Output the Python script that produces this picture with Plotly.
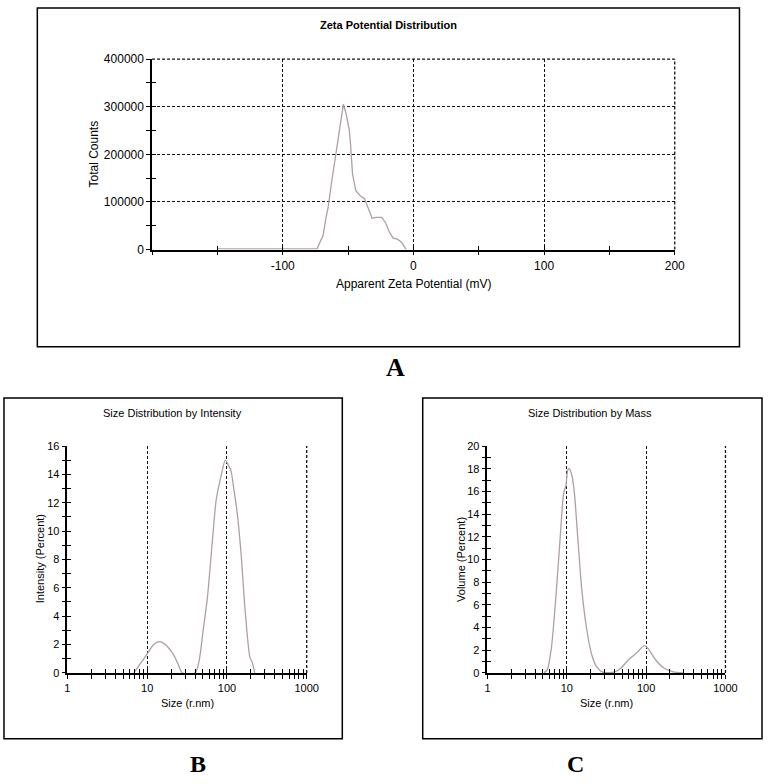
import plotly.graph_objects as go

FW, FH = 775, 784

# ---------------- data ----------------
zeta_mv = [-150, -73.7, -70.7, -69.2, -66.7, -65.4, -62.4, -58.6, -55.6, -53.6, -51.6,
           -49.1, -48.1, -46.6, -44.1, -41.1, -37.4, -34.8, -31.6, -28.6, -24.1, -21.1,
           -18.6, -15.5, -12.3, -9.0, -5.5]
zeta_counts = [1500, 1500, 20700, 29000, 69000, 86300, 145000, 214000, 276000, 305000, 286500,
               252000, 221000, 159000, 124000, 114000, 107000, 90000, 65600, 67700, 67700, 55300,
               38000, 24200, 22000, 15300, 0]

size_int = [6.8, 8.2, 10, 12, 14.4, 17.5, 21.1, 24.3, 27.5, 40, 44.9, 50.2, 56.8, 65.4, 73.3,
            83, 95.5, 105, 112, 121, 133, 150, 168, 194, 207, 223]
int_pct = [0, 0.65, 1.34, 1.99, 2.2, 1.92, 1.34, 0.65, 0, 0, 0.88, 2.96, 5.27, 9.2, 12.2,
           13.7, 15.0, 14.6, 14.3, 13.1, 11.5, 8.5, 4.6, 1.1, 0.76, 0]

size_mass = [5.16, 5.68, 6.42, 7.33, 8.29, 9.12, 9.75, 10.3, 10.7, 11.6, 12.5, 13.7, 15.4,
             17.7, 20.4, 23.6, 28.5, 39.7, 48, 60.8, 77, 95, 107, 130, 165, 219, 291]
mass_pct = [0, 0.29, 2.3, 6.9, 12.1, 15.8, 16.5, 17.9, 18.0, 17.4, 15.8, 12.1, 7.5,
            4.0, 1.73, 0.58, 0.06, 0.06, 0.4, 1.2, 1.8, 2.4, 2.1, 1.2, 0.45, 0.1, 0]

zeta_ticks = [-200, -100, 0, 100, 200]
zeta_ticktext = ["", "-100", "0", "100", "200"]
zeta_minor = [-150, -50, 50, 150]
count_ticks = [0, 100000, 200000, 300000, 400000]
count_ticktext = ["0", "100000", "200000", "300000", "400000"]
count_minor = [50000, 150000, 250000, 350000]

size_ticks = [1, 10, 100, 1000]
size_ticktext = ["1", "10", "100", "1000"]
size_minor = [m * 10 ** k for k in range(3) for m in range(2, 10)]
int_ticks = list(range(0, 17, 2))
int_minor = list(range(1, 16, 2))
vol_ticks = list(range(0, 21, 2))
vol_minor = list(range(1, 20, 2))

# ---------------- style ----------------
LINE_COL = "#ae9fa3"
FONT = "Liberation Sans, Arial, sans-serif"
SERIF = "Liberation Serif, Times New Roman, serif"
GRID_COL = "#111"
GRID_DASH = "3px,2px"
GRID_W = 1.3


def px(p):
    return p / FW


def py(p):
    return 1 - p / FH


fig = go.Figure()

fig.add_trace(go.Scatter(x=zeta_mv, y=zeta_counts, mode="lines",
                         line=dict(color=LINE_COL, width=1.3), xaxis="x", yaxis="y",
                         showlegend=False, hoverinfo="skip"))
fig.add_trace(go.Scatter(x=size_int, y=int_pct, mode="lines",
                         line=dict(color=LINE_COL, width=1.3, shape="spline", smoothing=0.7),
                         xaxis="x2", yaxis="y2", showlegend=False, hoverinfo="skip"))
fig.add_trace(go.Scatter(x=size_mass, y=mass_pct, mode="lines",
                         line=dict(color=LINE_COL, width=1.3, shape="spline", smoothing=0.7),
                         xaxis="x3", yaxis="y3", showlegend=False, hoverinfo="skip"))

# empty traces for overlay (inside-tick) axes
for xa, ya in [("x4", "y"), ("x", "y4"), ("x5", "y2"), ("x2", "y5"), ("x6", "y3"), ("x3", "y6")]:
    fig.add_trace(go.Scatter(x=[], y=[], xaxis=xa, yaxis=ya, showlegend=False, hoverinfo="skip"))

GRID = dict(showgrid=True, gridcolor=GRID_COL, griddash=GRID_DASH, gridwidth=GRID_W)
AX = dict(showline=True, linecolor="black", linewidth=1.5, ticks="outside", ticklen=4,
          tickcolor="black", tickwidth=1.2, zeroline=False, fixedrange=True)
OVL = dict(showline=False, showgrid=False, zeroline=False, ticks="inside", ticklen=4,
           tickcolor="black", tickwidth=1.2, showticklabels=False, tickmode="array")

dom_A_x = [px(152), px(685)]
dom_A_y = [py(247), py(53)]
dom_B_x = [px(65.7), px(309.7)]
dom_C_x = [px(494), px(736.7)]
dom_BC_y = [py(678), py(447)]

fig.update_layout(
    width=FW, height=FH, autosize=False,
    margin=dict(l=0, r=0, t=0, b=0),
    paper_bgcolor="white", plot_bgcolor="white",
    font=dict(family=FONT, color="black"),
    xaxis=dict(domain=dom_A_x, anchor="y", range=[-200, 200], tickmode="array",
               tickvals=zeta_ticks, ticktext=zeta_ticktext, tickfont=dict(size=12),
               minor=dict(tickmode="array", tickvals=zeta_minor, ticks="outside", ticklen=4,
                          tickcolor="black", showgrid=False),
               **GRID, **AX),
    yaxis=dict(domain=dom_A_y, anchor="x", range=[0, 400000], tickmode="array",
               tickvals=count_ticks, ticktext=count_ticktext, tickfont=dict(size=12),
               minor=dict(tickmode="array", tickvals=count_minor, ticks="outside", ticklen=4,
                          tickcolor="black", showgrid=False),
               **GRID, **AX),
    xaxis4=dict(overlaying="x", anchor="y", range=[-200, 200],
                tickvals=zeta_ticks + zeta_minor, **OVL),
    yaxis4=dict(overlaying="y", anchor="x", range=[0, 400000],
                tickvals=count_ticks + count_minor, **OVL),

    xaxis2=dict(domain=dom_B_x, anchor="y2", type="log", range=[0, 3], tickmode="array",
                tickvals=size_ticks, ticktext=size_ticktext, tickfont=dict(size=11),
                minor=dict(tickmode="array", tickvals=size_minor, ticks="outside", ticklen=4,
                           tickcolor="black", showgrid=False),
                **GRID, **AX),
    yaxis2=dict(domain=dom_BC_y, anchor="x2", range=[0, 16], tickmode="array",
                tickvals=int_ticks, tickfont=dict(size=11), showgrid=False,
                minor=dict(tickmode="array", tickvals=int_minor, ticks="outside", ticklen=4,
                           tickcolor="black", showgrid=False),
                **AX),
    xaxis5=dict(overlaying="x2", anchor="y2", type="log", range=[0, 3],
                tickvals=size_ticks + size_minor, **OVL),
    yaxis5=dict(overlaying="y2", anchor="x2", range=[0, 16],
                tickvals=int_ticks + int_minor, **OVL),

    xaxis3=dict(domain=dom_C_x, anchor="y3", type="log", range=[0, 3], tickmode="array",
                tickvals=size_ticks, ticktext=size_ticktext, tickfont=dict(size=11),
                minor=dict(tickmode="array", tickvals=size_minor, ticks="outside", ticklen=4,
                           tickcolor="black", showgrid=False),
                **GRID, **AX),
    yaxis3=dict(domain=dom_BC_y, anchor="x3", range=[0, 20], tickmode="array",
                tickvals=vol_ticks, tickfont=dict(size=11), showgrid=False,
                minor=dict(tickmode="array", tickvals=vol_minor, ticks="outside", ticklen=4,
                           tickcolor="black", showgrid=False),
                **AX),
    xaxis6=dict(overlaying="x3", anchor="y3", type="log", range=[0, 3],
                tickvals=size_ticks + size_minor, **OVL),
    yaxis6=dict(overlaying="y3", anchor="x3", range=[0, 20],
                tickvals=vol_ticks + vol_minor, **OVL),
)

# grid lines that sit on the plot edges (plotly drops those at the very edge)
edge_line = dict(color=GRID_COL, width=GRID_W, dash=GRID_DASH)
fig.add_shape(type="line", xref="x domain", yref="y domain", x0=1, x1=1, y0=0, y1=1, line=edge_line)
fig.add_shape(type="line", xref="x domain", yref="y domain", x0=0, x1=1, y0=1, y1=1, line=edge_line)
fig.add_shape(type="line", xref="x2 domain", yref="y2 domain", x0=1, x1=1, y0=0, y1=1, line=edge_line)
fig.add_shape(type="line", xref="x3 domain", yref="y3 domain", x0=1, x1=1, y0=0, y1=1, line=edge_line)

# panel frames
for x0, x1, y0, y1 in [(35, 751, 1, 346), (1, 346, 398, 745), (428, 774, 398, 745)]:
    fig.add_shape(type="rect", xref="paper", yref="paper", x0=px(x0), x1=px(x1),
                  y0=py(y1), y1=py(y0), line=dict(color="black", width=1.5), layer="below")


def note(text, x, y, size, angle=0, family=FONT):
    fig.add_annotation(text=text, x=px(x), y=py(y), xref="paper", yref="paper",
                       showarrow=False, xanchor="center", yanchor="middle", textangle=angle,
                       font=dict(size=size, family=family, color="black"))


note("<b>Zeta Potential Distribution</b>", 393, 18, 11)
note("Total Counts", 93, 150, 12, -90)
note("Apparent Zeta Potential (mV)", 418.5, 282, 12)
note("<b>A</b>", 400, 367, 26, family=SERIF)

note("Size Distribution by Intensity", 173, 413, 11)
note("Intensity (Percent)", 38, 562, 11, -90)
note("Size (r.nm)", 187.7, 709, 11)
note("<b>B</b>", 199, 771, 24, family=SERIF)

note("Size Distribution by Mass", 599, 413, 11)
note("Volume (Percent)", 467, 562, 11, -90)
note("Size (r.nm)", 615, 709, 11)
note("<b>C</b>", 584, 771, 24, family=SERIF)

PIN_PAGE = (
    "var h=document.documentElement,b=document.body;"
    "[h,b].forEach(function(e){e.style.margin='0';e.style.padding='0';"
    "e.style.overflow='hidden';e.style.width='775px';e.style.height='784px';});"
    "var d=document.getElementById('{plot_id}');"
    "d.style.position='fixed';d.style.left='0px';d.style.top='0px';"
)

fig.write_html("out.html", config={"displayModeBar": False}, post_script=PIN_PAGE)
